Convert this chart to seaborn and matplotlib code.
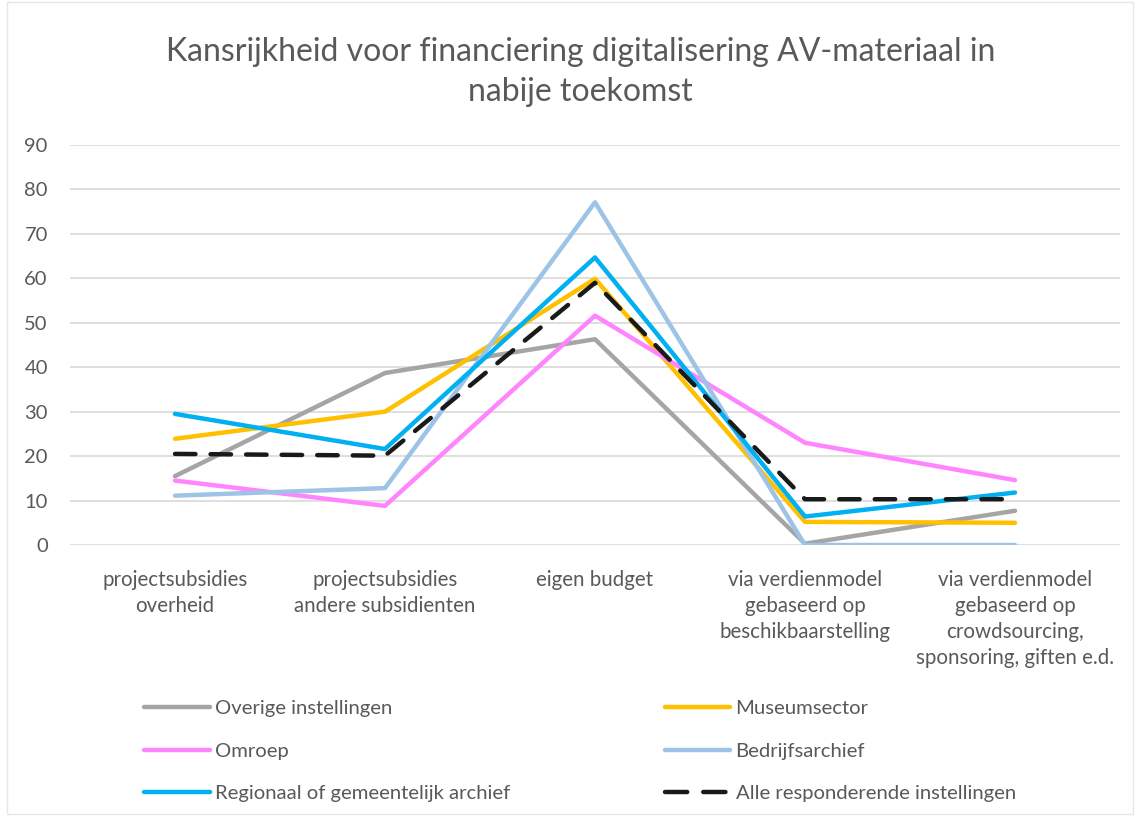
import matplotlib
matplotlib.use("Agg")
import matplotlib.pyplot as plt
import seaborn as sns
import pandas as pd
from matplotlib.lines import Line2D

categories = [
    "projectsubsidies\noverheid",
    "projectsubsidies\nandere subsidienten",
    "eigen budget",
    "via verdienmodel\ngebaseerd op\nbeschikbaarstelling",
    "via verdienmodel\ngebaseerd op\ncrowdsourcing,\nsponsoring, giften e.d.",
]
overige = [15.5, 38.7, 46.3, 0.3, 7.7]
museum = [23.9, 30.0, 59.9, 5.2, 5.0]
omroep = [14.5, 8.8, 51.6, 23.0, 14.6]
bedrijf = [11.1, 12.8, 77.1, 0.0, 0.0]
regionaal = [29.5, 21.6, 64.7, 6.4, 11.8]
alle = [20.5, 20.1, 59.0, 10.3, 10.3]

series_names = ["Overige instellingen", "Museumsector", "Omroep", "Bedrijfsarchief",
                "Regionaal of gemeentelijk archief", "Alle responderende instellingen"]
series_values = [overige, museum, omroep, bedrijf, regionaal, alle]
colors = ["#A5A5A5", "#FFC000", "#FF85FF", "#9DC3E6", "#00B0F0", "#1A1A1A"]

rows = []
for name, vals in zip(series_names, series_values):
    for i, v in enumerate(vals):
        rows.append({"pos": i, "value": v, "serie": name})
df = pd.DataFrame(rows)

sns.set_theme(style="white")
plt.rcParams['font.family'] = ['Lato', 'DejaVu Sans']
text_color = "#595959"

fig = plt.figure(figsize=(11.38, 8.16), dpi=100)
ax = fig.add_axes([70 / 1138, 1 - 545 / 816, 1050 / 1138, 400 / 816])

palette = dict(zip(series_names, colors))
dashes = {n: "" for n in series_names}
dashes["Alle responderende instellingen"] = (4.6, 3.4)
sns.lineplot(data=df, x="pos", y="value", hue="serie", style="serie",
             hue_order=series_names, style_order=series_names,
             palette=palette, dashes=dashes, linewidth=3.2, ax=ax, legend=False,
             sort=False)
for ln in ax.lines:
    ln.set_dash_capstyle("round")

ax.set_xlim(-0.5, 4.5)
ax.set_ylim(0, 90)
ax.set_yticks(range(0, 91, 10))
ax.set_xticks(range(len(categories)))
ax.set_xticklabels(categories, fontsize=14.8, color=text_color, linespacing=1.38)
ax.tick_params(axis="y", labelsize=14.5, labelcolor=text_color, length=0, pad=16)
ax.tick_params(axis="x", length=0, pad=18)
ax.yaxis.grid(True, color="#D9D9D9", linewidth=1.2)
ax.set_axisbelow(True)
for s in ax.spines.values():
    s.set_visible(False)
ax.set_xlabel("")
ax.set_ylabel("")

fig.text(0.51, 1 - 72 / 816,
         "Kansrijkheid voor financiering digitalisering AV-materiaal in\nnabije toekomst",
         ha="center", va="center", fontsize=23, color=text_color, linespacing=1.45)

order = [0, 2, 4, 1, 3, 5]
handles = []
for i in order:
    ls = (0, (5, 3.6)) if i == 5 else "-"
    handles.append(Line2D([0], [0], color=colors[i], linewidth=3.2, linestyle=ls,
                          dash_capstyle="round"))
labels = [series_names[i] for i in order]
fig.legend(handles, labels, ncol=2, loc="center left",
           bbox_to_anchor=(126 / 1138, 1 - 751 / 816), frameon=False,
           fontsize=14.6, labelcolor=text_color, handlelength=3.25, handletextpad=0.25,
           columnspacing=7.6, labelspacing=1.25)

fig.patches.append(plt.Rectangle((0.006, 0.002), 0.99, 0.996, transform=fig.transFigure,
                                 fill=False, edgecolor="#E6E6E6", linewidth=1))
fig.savefig("out.png", dpi=100)
